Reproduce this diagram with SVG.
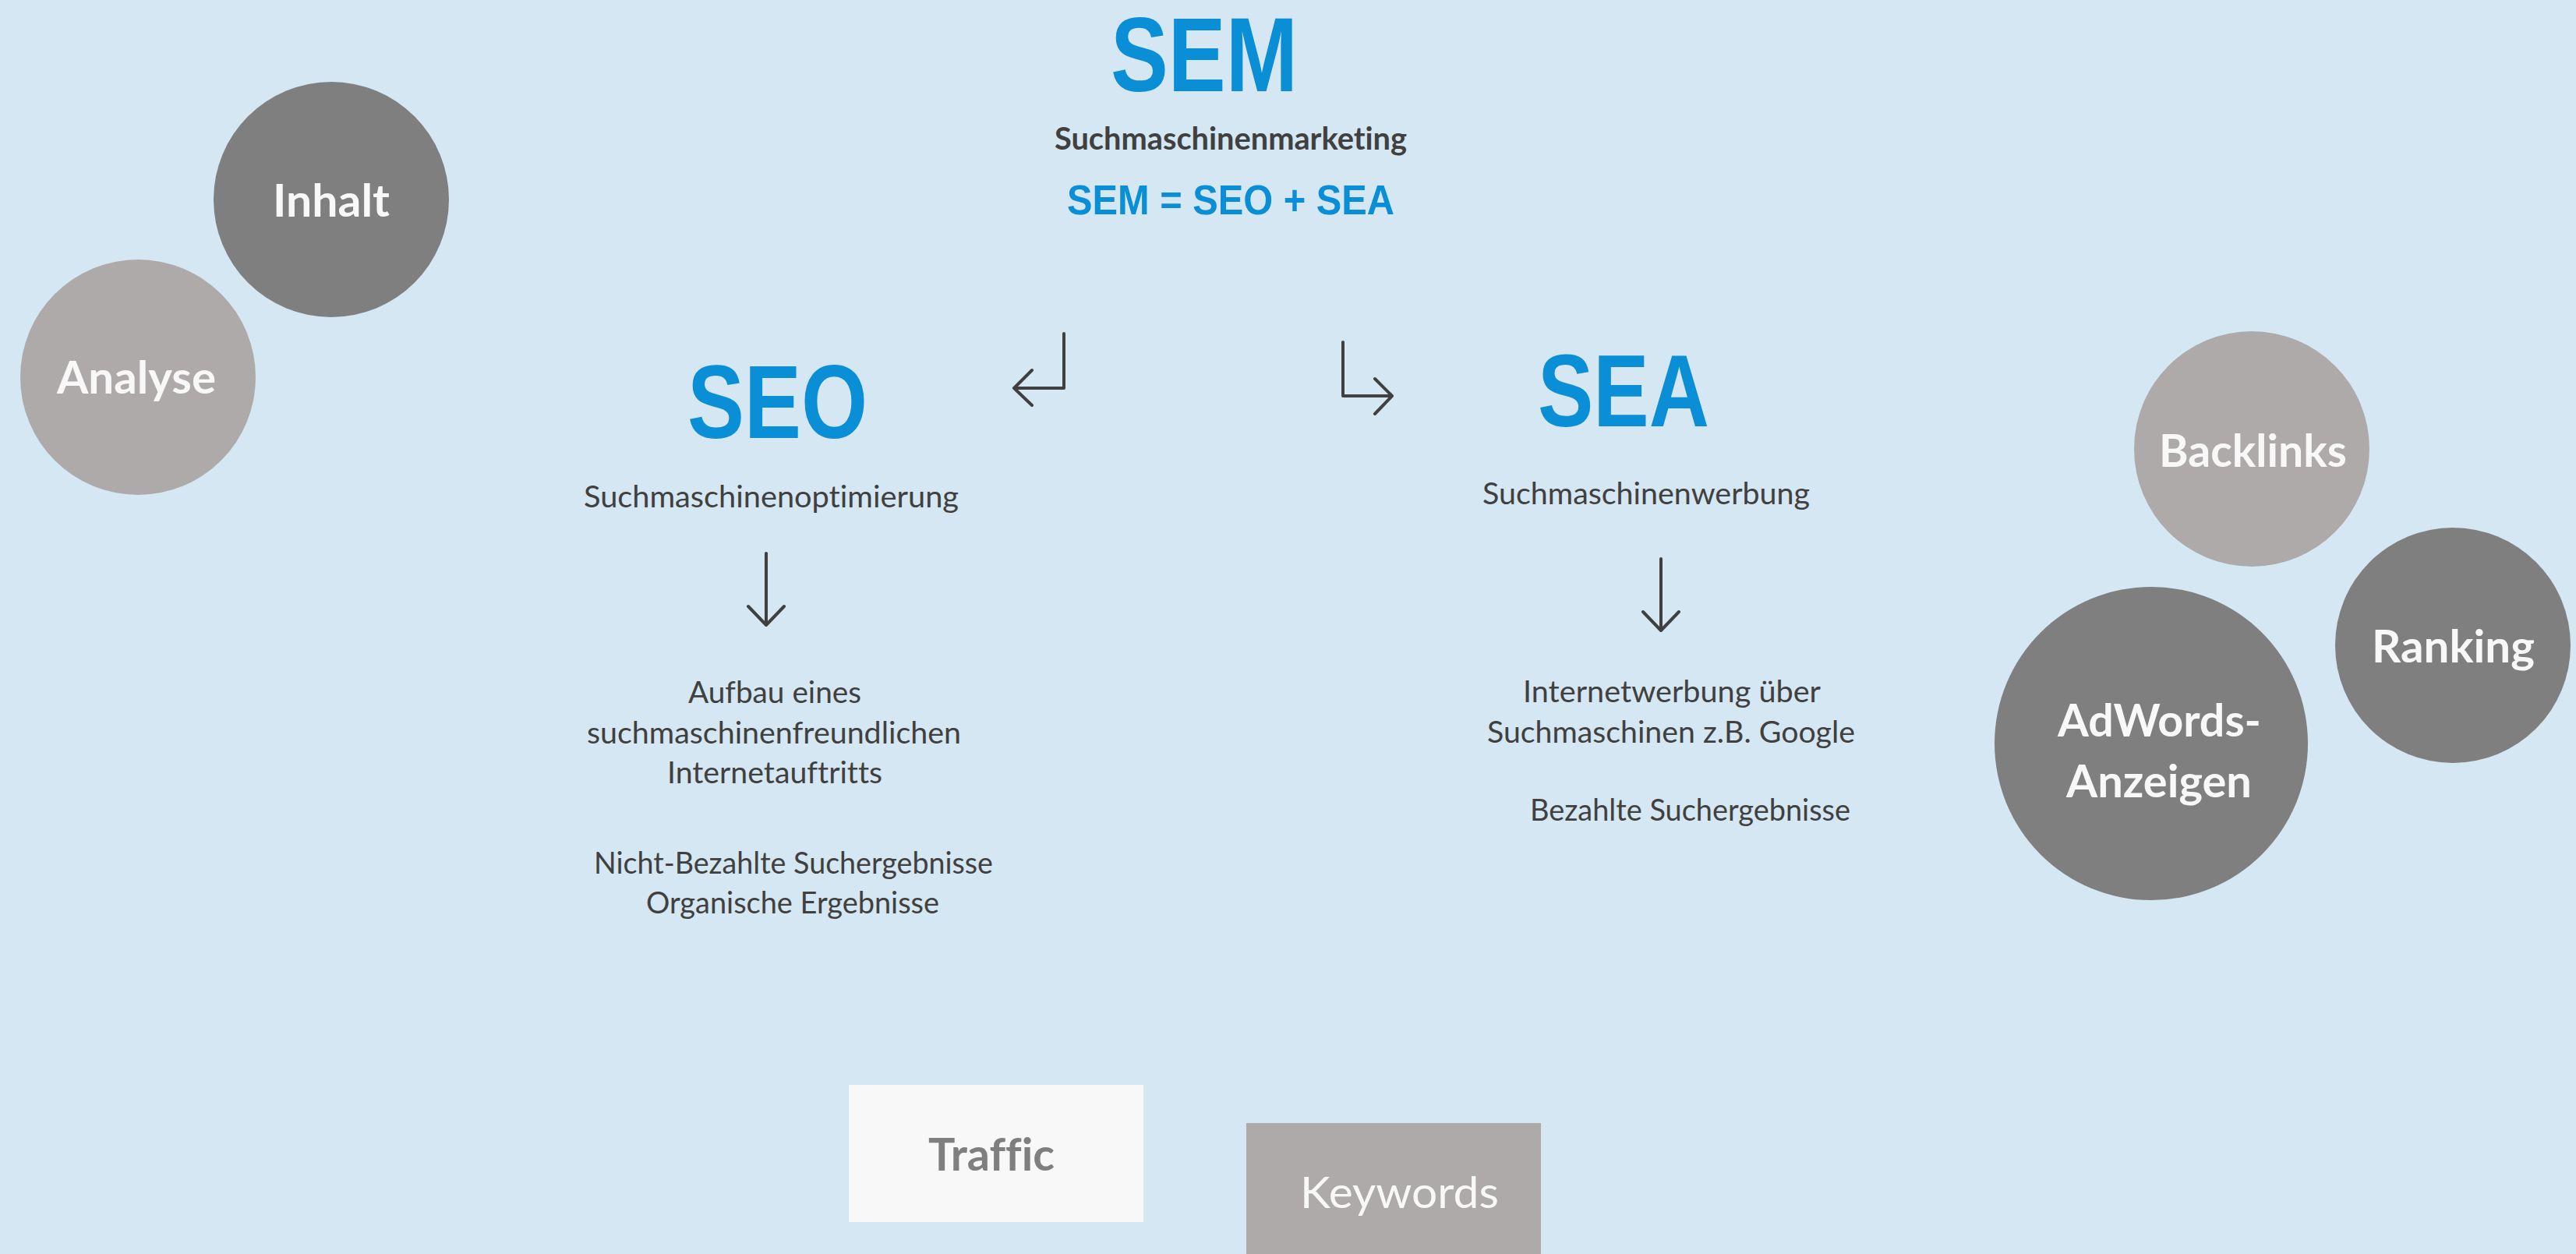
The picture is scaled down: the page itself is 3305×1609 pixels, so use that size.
<svg xmlns="http://www.w3.org/2000/svg" width="3305" height="1609" viewBox="0 0 3305 1609">
<style>
text{font-variant-ligatures:none}
.head{font-family:"Liberation Sans",Arial,sans-serif;font-weight:bold;fill:#0a8ed6}
.body{font-family:Lato,"Open Sans",sans-serif;font-size:38px;fill:#404040}
.lbl{font-family:Lato,"Open Sans",sans-serif;font-size:57px;font-weight:bold;fill:#f8f8f8}
.dark{fill:#7f7f7f}
.light{fill:#aeaaaa}
.arr{fill:none;stroke:#404040;stroke-width:4;stroke-linecap:round;stroke-linejoin:round}
</style>
<rect x="0" y="0" width="3305" height="1609" fill="#d4e7f2"/>
<g id="sem">
<text class="head" x="1425" y="117" font-size="135" textLength="240" lengthAdjust="spacingAndGlyphs">SEM</text>
<text x="1353" y="192" font-family="Lato,'Open Sans',sans-serif" font-size="40" font-weight="bold" fill="#404040" textLength="452" lengthAdjust="spacingAndGlyphs">Suchmaschinenmarketing</text>
<text class="head" x="1369" y="275" font-size="54" textLength="420" lengthAdjust="spacingAndGlyphs">SEM = SEO + SEA</text>
</g>
<g id="seo">
<text class="head" x="882" y="562" font-size="133" textLength="231" lengthAdjust="spacingAndGlyphs">SEO</text>
<text class="body" x="749" y="651" textLength="481" lengthAdjust="spacingAndGlyphs">Suchmaschinenoptimierung</text>
</g>
<g id="seo-desc">
<text class="body" x="883" y="902" textLength="222" lengthAdjust="spacingAndGlyphs">Aufbau eines</text>
<text class="body" x="753" y="954" textLength="480" lengthAdjust="spacingAndGlyphs">suchmaschinenfreundlichen</text>
<text class="body" x="856" y="1005" textLength="276" lengthAdjust="spacingAndGlyphs">Internetauftritts</text>
<text class="body" x="762" y="1121" textLength="512" lengthAdjust="spacingAndGlyphs">Nicht-Bezahlte Suchergebnisse</text>
<text class="body" x="829" y="1172" textLength="376" lengthAdjust="spacingAndGlyphs">Organische Ergebnisse</text>
</g>
<g id="sea">
<text class="head" x="1973" y="547" font-size="131" textLength="220" lengthAdjust="spacingAndGlyphs">SEA</text>
<text class="body" x="1902" y="647" textLength="420" lengthAdjust="spacingAndGlyphs">Suchmaschinenwerbung</text>
</g>
<g id="sea-desc">
<text class="body" x="1954" y="901" textLength="382" lengthAdjust="spacingAndGlyphs">Internetwerbung über</text>
<text class="body" x="1908" y="953" textLength="472" lengthAdjust="spacingAndGlyphs">Suchmaschinen z.B. Google</text>
<text class="body" x="1963" y="1053" textLength="411" lengthAdjust="spacingAndGlyphs">Bezahlte Suchergebnisse</text>
</g>
<g id="inhalt">
<circle class="dark" cx="425" cy="256" r="151"/>
<text class="lbl" x="350" y="278" textLength="150" lengthAdjust="spacingAndGlyphs">Inhalt</text>
</g>
<g id="analyse">
<circle class="light" cx="177" cy="484" r="151"/>
<text class="lbl" x="73" y="505" textLength="204" lengthAdjust="spacingAndGlyphs">Analyse</text>
</g>
<g id="backlinks">
<circle class="light" cx="2889" cy="576" r="151"/>
<text class="lbl" x="2770" y="599" textLength="241" lengthAdjust="spacingAndGlyphs">Backlinks</text>
</g>
<g id="ranking">
<circle class="dark" cx="3147" cy="828" r="151"/>
<text class="lbl" x="3043" y="850" textLength="209" lengthAdjust="spacingAndGlyphs">Ranking</text>
</g>
<g id="adwords">
<circle class="dark" cx="2760" cy="954" r="201"/>
<text class="lbl" x="2640" y="945" textLength="261" lengthAdjust="spacingAndGlyphs">AdWords-</text>
<text class="lbl" x="2651" y="1023" textLength="238" lengthAdjust="spacingAndGlyphs">Anzeigen</text>
</g>
<g id="traffic">
<rect x="1089" y="1392" width="378" height="176" fill="#f8f8f8"/>
<text class="lbl" x="1191" y="1502" style="fill:#7f7f7f" textLength="162" lengthAdjust="spacingAndGlyphs">Traffic</text>
</g>
<g id="keywords">
<rect x="1599" y="1441" width="378" height="180" class="light"/>
<text class="lbl" x="1668" y="1550" style="font-weight:normal" textLength="255" lengthAdjust="spacingAndGlyphs">Keywords</text>
</g>
<g id="connectors">
<path class="arr" d="M1365,428 V498 H1301 M1324,475 L1301,498 L1324,520"/>
<path class="arr" d="M1723,439 V508 H1785 M1764,486 L1786,508 L1764,531"/>
<path class="arr" d="M983,710 V801 M960,778 L983,802 L1006,778"/>
<path class="arr" d="M2131,717 V808 M2108,785 L2131,809 L2154,785"/>
</g>
</svg>
